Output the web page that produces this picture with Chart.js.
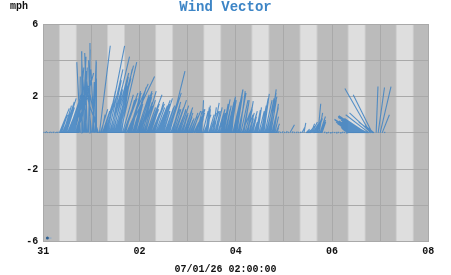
<!DOCTYPE html>
<html>
<head>
<meta charset="utf-8">
<script src="https://cdn.jsdelivr.net/npm/chart.js@4.4.1/dist/chart.umd.min.js"></script>
<style>
  html, body { margin: 0; padding: 0; background: #fff; }
  #wrap { width: 451px; height: 275px; }
</style>
</head>
<body>
<div id="wrap"><canvas id="windChart"></canvas></div>
<script>
// hourly observation times, hours since 31 Dec 00:00
const obsHours = [
    0,   1,   2,   3,   4,   5,   6,   7,   8,   9,  10,  11,  12,  13,  14,  15,  16,  17,  18,  19,  20,  21,  22,  23,
   24,  25,  26,  27,  28,  29,  30,  31,  32,  33,  34,  35,  36,  37,  38,  39,  40,  41,  42,  43,  44,  45,  46,  47,
   48,  49,  50,  51,  52,  53,  54,  55,  56,  57,  58,  59,  60,  61,  62,  63,  64,  65,  66,  67,  68,  69,  70,  71,
   72,  73,  74,  75,  76,  77,  78,  79,  80,  81,  82,  83,  84,  85,  86,  87,  88,  89,  90,  91,  92,  93,  94,  95,
   96,  97,  98,  99, 100, 101, 102, 103, 104, 105, 106, 107, 108, 109, 110, 111, 112, 113, 114, 115, 116, 117, 118, 119,
  120, 121, 122, 123, 124, 125, 126, 127, 128, 129, 130, 131, 132, 133, 134, 135, 136, 137, 138, 139, 140, 141, 142, 143,
  144, 145, 146, 147, 148, 149, 150, 151, 152, 153, 154, 155, 156, 157, 158, 159, 160, 161, 162, 163, 164, 165, 166, 167,
  168, 169, 170
];

// east (u) and north (v) wind components, mph
const windU = [
  .06, .08, .05, .07, .06, .05, .08, .06, .55, .30, .45, .60, .50, .70, .50, .80, .60, .90, .05, .02,-.10, .10,-.15, .03,
 -.30, .15, .05,-.50, .60, .20, .50, .60, .95, .70,1.00, .50,1.00, .60, .70, .40, .80, .50,1.50, .60, .50, .70, .40, .80,
  .70, .60, .70, .40, .80, .50, .45, .60, .50, .70, .40, .60, .35, .50, .60, .85, .50, .40, .60, .40, .50, .30, .50, .40,
  .30, .40, .50, .30, .50, .40, .20, .10, .40, .20, .15, .30, .40, .30, .20, .40, .30, .20, .35, .30, .40, .20, .20, .50,
  .40, .35, .30, .50, .30, .40, .30, .20, .30, .20, .25, .20, .30, .35, .30, .40, .50, .35, .30, .25, .20, .08, .06, .07,
  .06, .08, .05, .25, .07, .05, .08, .06, .07, .15, .10, .20, .07, .25, .30, .25, .30, .15, .30, .20, .07, .05, .06, .05,
  .06, .07, .05, .06, .05, .07, .06, .05,-.30,-.50,-.80,-1.0,-1.2,-.90,-1.1,-1.3,-1.4,-1.2,-1.85,-1.4,-1.05,-.50, .10, .35,
  .60, .40, .06
];
const windV = [
  .05, .08, .04, .06, .05, .07, .05, .06,1.35, .90,1.50,1.90,1.20,2.20,1.60,2.60,2.00,3.30,3.10,4.50,4.50,3.60,4.40,4.95,
 3.40,4.00,3.90,2.60,4.80,1.00,1.60,2.00,4.80,2.50,4.20,2.40,3.70,3.10,3.50,2.60,2.20,1.80,3.10,2.00,2.30,2.50,1.60,2.30,
 2.20,1.70,2.30,1.50,2.10,1.30,1.10,1.60,1.40,1.80,1.30,1.90,1.20,1.50,1.90,3.40,1.70,1.30,1.80,1.10,1.50,1.00,1.40,1.10,
  .70, .90,1.20, .60,1.10,1.30, .80,1.80,1.00,1.40,1.30, .90,1.20,1.65,1.00,1.30, .80,1.10,1.85,1.50,1.90,1.20,2.00,2.35,
 2.40,1.60,2.30,1.20,1.80,1.00,1.75, .80,1.20, .60,1.25,1.40, .90,1.90,2.15,1.50,2.00,2.40,1.20,1.60, .50, .10, .05, .08,
  .05, .10, .05, .45, .08, .05, .07, .05, .06, .30, .55, .20, .06, .40, .60, .40, .75,1.60, .90, .60, .06, .04, .05, .04,
  .05, .04, .06, .05, .04, .06, .05, .05, .20, .30, .50, .60, .75, .60, .80, .90, .95, .80, .70,2.45,2.10, .40,2.55,2.50,
 2.55,1.00, .05
];

// extra half-hour readings while the wind was up
const halfHours = [
   8.5,  9.5, 10.5, 11.5, 12.5, 13.5, 14.5, 15.5, 16.5, 17.5, 18.5, 19.5, 20.5, 21.5, 22.5, 23.5,
  24.5, 25.5, 26.5, 27.5, 28.5, 29.5, 30.5, 31.5, 32.5, 33.5, 34.5, 35.5, 36.5, 37.5, 38.5, 39.5, 40.5, 41.5, 42.5, 43.5, 44.5, 45.5, 46.5, 47.5,
  48.5, 49.5, 50.5, 51.5, 52.5, 53.5, 54.5, 55.5, 56.5, 57.5, 58.5, 59.5, 60.5, 61.5, 62.5, 63.5, 64.5, 65.5, 66.5, 67.5, 68.5, 69.5, 70.5, 71.5,
  72.5, 73.5, 74.5, 75.5, 76.5, 77.5, 78.5, 79.5, 80.5, 81.5, 82.5, 83.5, 84.5, 85.5, 86.5, 87.5, 88.5, 89.5, 90.5, 91.5, 92.5, 93.5, 94.5, 95.5,
  96.5, 97.5, 98.5, 99.5,100.5,101.5,102.5,103.5,104.5,105.5,106.5,107.5,108.5,109.5,110.5,111.5,112.5,113.5,114.5,115.5,116.5,
 131.5,132.5,133.5,134.5,135.5,136.5,137.5,138.5,
 152.5,153.5,154.5,155.5,156.5,157.5,158.5,159.5,160.5,161.5,162.5,163.5,164.5
];
const halfU = [
  .40, .50, .55, .45, .65, .55, .70, .60, .80, .30,-.20, .20, .05,-.25, .10,-.10,
  .10,-.20, .00,-.70, .40, .40, .60, .50, .80, .60, .90, .70, .80, .50, .90, .60, .70,1.20, .70, .50, .60, .50, .70, .60,
  .60, .50, .60, .50, .60, .40, .50, .50, .60, .50, .50, .40, .50, .60, .70, .50, .40, .50, .50, .40, .40, .30, .40, .30,
  .30, .40, .30, .40, .30, .30, .20, .30, .30, .20, .30, .30, .20, .30, .30, .30, .20, .30, .30, .40, .30, .30, .40, .40,
  .30, .40, .40, .30, .40, .30, .30, .30, .20, .30, .20, .30, .30, .30, .40, .40, .40, .30, .30, .20, .10,
  .20, .25, .20, .30, .25, .30, .20, .25,
 -.40,-.60,-.90,-1.1,-1.0,-1.0,-1.2,-1.3,-1.5,-1.6,-1.3,-1.2,-.80
];
const halfV = [
  1.0, 1.2, 1.7, 1.4, 1.9, 1.8, 2.3, 2.4, 2.9, 3.6, 3.9, 4.2, 3.2, 3.8, 4.6, 4.0,
  2.8, 3.5, 3.0, 2.2, 1.3, 1.2, 1.8, 2.3, 3.5, 2.9, 3.3, 2.8, 3.0, 2.6, 3.9, 2.1, 1.9, 2.7, 2.2, 1.8, 2.0, 1.9, 2.1, 2.0,
  1.9, 2.0, 1.8, 1.4, 1.6, 1.2, 1.3, 1.7, 1.5, 1.4, 1.6, 1.2, 1.4, 1.7, 2.2, 1.3, 1.5, 1.4, 1.2, 1.3, 1.0, 1.1, 1.2, 0.9,
  0.8, 1.1, 0.9, 0.9, 1.2, 1.0, 1.3, 1.2, 1.1, 1.5, 1.0, 1.1, 1.4, 1.2, 1.4, 1.0, 1.2, 1.6, 1.3, 1.7, 1.4, 1.8, 1.7, 2.1,
  2.0, 2.2, 1.8, 1.5, 1.4, 1.3, 1.1, 1.0, 0.9, 0.9, 1.0, 1.2, 1.5, 1.7, 1.8, 1.9, 2.2, 1.8, 1.4, 0.9, 0.3,
  .15, .30, .50, .50, .60, .80, 1.1, .70,
  .25, .40, .55, .70, .65, .70, .85, .90, .90, .85, 1.0, 1.1, .60
];

const xTickLabels = ['31', '', '02', '', '04', '', '06', '', '08'];
const yTickLabels = ['-6', '', '-2', '', '2', '', '6'];

// small key mark in the lower left corner
const keyDays = [0.085, 0.17];
const keyMph = [-5.8, -5.8];

// day light band inside each day (fraction of day)
const sunrise = 0.345;
const sunset = 0.677;
const HOURS_PER_MPH = 9;

const vectorPoints = [];
function addVectors(hours, us, vs) {
    hours.forEach(function(h, i) {
        const t = h / 24;
        vectorPoints.push({ x: t, y: 0 });
        vectorPoints.push({ x: t + us[i] * HOURS_PER_MPH / 24, y: vs[i] });
        vectorPoints.push({ x: t, y: null });
    });
}
addVectors(obsHours, windU, windV);
addVectors(halfHours, halfU, halfV);

const dayNightBands = {
    id: 'dayNightBands',
    beforeDraw: function(chart) {
        const ctx = chart.ctx;
        const area = chart.chartArea;
        const xs = chart.scales.x;
        ctx.save();
        ctx.fillStyle = '#bbbbbb';
        ctx.fillRect(area.left, area.top, area.right - area.left, area.bottom - area.top);
        for (let d = 0; d < 8; d++) {
            const x1 = xs.getPixelForValue(d + sunrise);
            const x2 = xs.getPixelForValue(d + sunset);
            ctx.fillStyle = '#cdcdcd';
            ctx.fillRect(x1 - 1, area.top, x2 - x1 + 2, area.bottom - area.top);
            ctx.fillStyle = '#dedede';
            ctx.fillRect(x1, area.top, x2 - x1, area.bottom - area.top);
        }
        ctx.restore();
    },
    afterDraw: function(chart) {
        const ctx = chart.ctx;
        ctx.save();
        ctx.font = 'bold 10px "Liberation Mono"';
        ctx.fillStyle = '#111';
        ctx.textBaseline = 'middle';
        ctx.fillText('mph', 10, 6);
        ctx.restore();
    }
};

new Chart(document.getElementById('windChart'), {
    type: 'line',
    data: {
        datasets: [{
            data: vectorPoints,
            borderColor: 'rgba(62, 130, 195, 0.85)',
            borderWidth: 1.1,
            pointRadius: 0,
            spanGaps: false
        }, {
            data: keyDays.map(function(t, i) { return { x: t, y: keyMph[i] }; }),
            borderColor: 'rgba(120, 165, 210, 0.8)',
            borderWidth: 1,
            pointRadius: [1.5, 0],
            pointBackgroundColor: '#2f5f8f',
            pointBorderWidth: 0
        }]
    },
    options: {
        responsive: true,
        maintainAspectRatio: false,
        animation: false,
        layout: { padding: 0 },
        plugins: {
            legend: { display: false },
            tooltip: { enabled: false },
            title: {
                display: true,
                text: 'Wind Vector',
                color: '#3d85c6',
                font: { family: 'Liberation Mono', size: 14, weight: 'bold', lineHeight: 1 },
                padding: { top: 0, bottom: 10 }
            },
            subtitle: {
                display: true,
                position: 'bottom',
                text: '07/01/26 02:00:00',
                color: '#111',
                font: { family: 'Liberation Mono', size: 10, weight: 'bold', lineHeight: 1.2 },
                padding: { top: 0, bottom: 0 }
            }
        },
        scales: {
            x: {
                type: 'linear',
                min: 0,
                max: 8,
                afterFit: function(scale) { scale.height = 21.3; },
                grid: { color: '#a9a9a9', drawTicks: false },
                border: { color: '#a9a9a9' },
                ticks: {
                    stepSize: 1,
                    padding: 4,
                    maxRotation: 0,
                    autoSkip: false,
                    color: '#111',
                    font: { family: 'Liberation Mono', size: 10, weight: 'bold' },
                    callback: function(value) { return xTickLabels[value]; }
                }
            },
            y: {
                min: -6,
                max: 6,
                afterFit: function(scale) { scale.width = 43.3; },
                grid: { color: '#a9a9a9', drawTicks: false },
                border: { color: '#a9a9a9' },
                ticks: {
                    stepSize: 2,
                    padding: 5,
                    autoSkip: false,
                    color: '#111',
                    font: { family: 'Liberation Mono', size: 10, weight: 'bold' },
                    callback: function(value) { return yTickLabels[(value + 6) / 2]; }
                }
            },
            yRight: {
                position: 'right',
                afterFit: function(scale) { scale.width = 22.7; },
                grid: { display: false },
                border: { display: false },
                ticks: { display: false }
            }
        }
    },
    plugins: [dayNightBands]
});
</script>
</body>
</html>
